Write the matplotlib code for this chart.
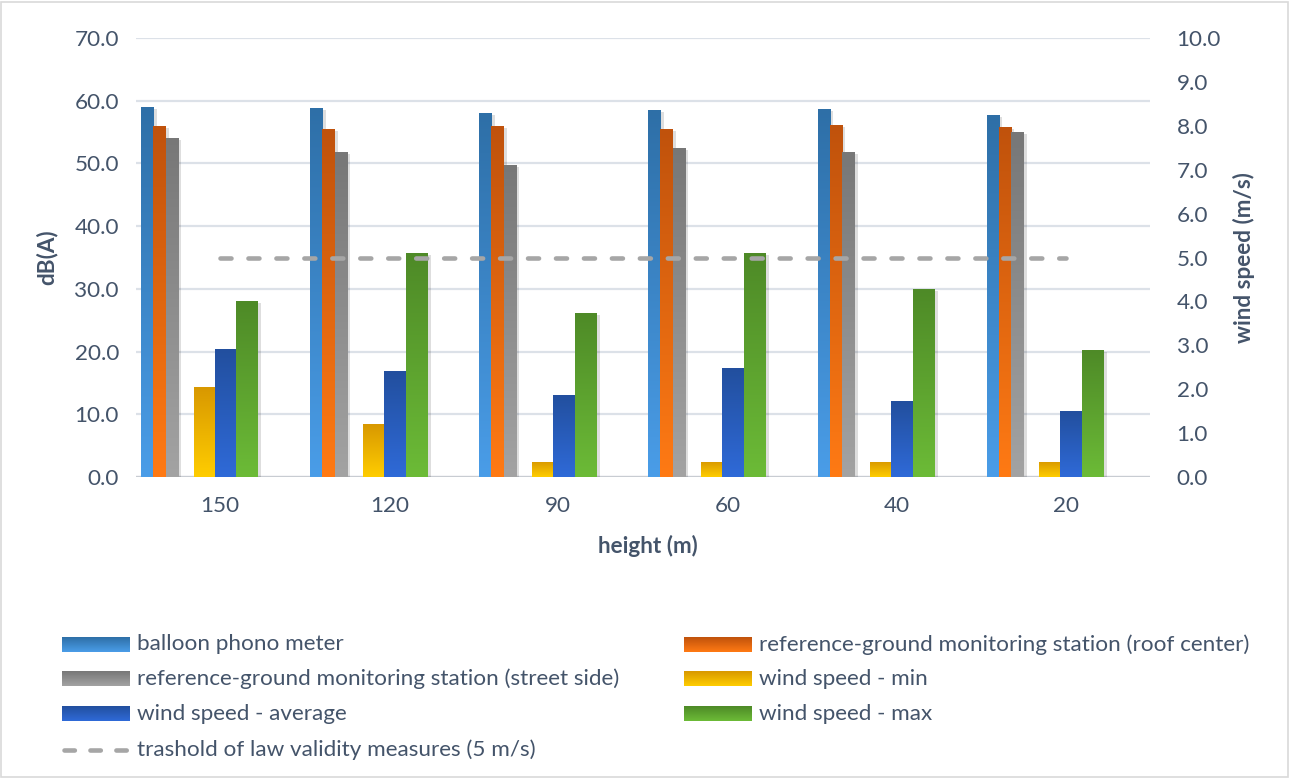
import numpy as np
import matplotlib.pyplot as plt
from matplotlib.colors import LinearSegmentedColormap
from matplotlib.patches import Rectangle
import matplotlib.patheffects as pe

heights = ['150', '120', '90', '60', '40', '20']
balloon = [59.0, 58.9, 58.0, 58.5, 58.7, 57.7]
roof_center = [56.0, 55.5, 56.0, 55.5, 56.1, 55.8]
street_side = [54.1, 51.8, 49.8, 52.5, 51.8, 55.0]
wind_min = [2.05, 1.2, 0.35, 0.35, 0.35, 0.35]
wind_avg = [2.92, 2.41, 1.87, 2.48, 1.73, 1.5]
wind_max = [4.0, 5.1, 3.74, 5.1, 4.28, 2.89]
threshold = 5.0

names = ['balloon phono meter',
         'reference-ground monitoring station (roof center)',
         'reference-ground monitoring station (street side)',
         'wind speed - min',
         'wind speed - average',
         'wind speed - max']
line_name = 'trashold of law validity measures (5 m/s)'

# (bottom colour, top colour) for each series gradient
grads = [('#4A9DE8', '#2E6FA7'),
         ('#FF7A14', '#C0520C'),
         ('#A3A3A3', '#777777'),
         ('#FFCD00', '#D89800'),
         ('#2F6AD8', '#224F9E'),
         ('#6CBB37', '#4E8A27')]

TXT = '#44546A'
FS = 16.2
plt.rcParams['font.family'] = ['Lato', 'DejaVu Sans']

fig = plt.figure(figsize=(12.91, 7.78), dpi=100)
ax = fig.add_axes([0.105, 0.387, 0.786, 0.564])
ax2 = ax.twinx()

x = np.arange(len(heights))


def gradient_bars(axis, xpos, vals, width, cols):
    cmap = LinearSegmentedColormap.from_list('g', list(cols))
    bars = axis.bar(xpos, vals, width, color='white', zorder=2,
                    path_effects=[pe.SimplePatchShadow(offset=(2.5, -1.5), shadow_rgbFace='black', alpha=0.13),
                                  pe.Normal()])
    grad = np.linspace(0, 1, 256).reshape(-1, 1)
    for b in bars:
        x0 = b.get_x()
        im = axis.imshow(grad, cmap=cmap, origin='lower', aspect='auto',
                         extent=(x0, x0 + b.get_width(), 0, b.get_height()),
                         zorder=3, interpolation='bilinear')
        im.set_clip_path(b)
    return bars


left_off = [-0.432, -0.361, -0.287]
right_off = [-0.092, 0.0325, 0.160]
for off, vals, cols in zip(left_off, [balloon, roof_center, street_side], grads[:3]):
    gradient_bars(ax, x + off, vals, 0.071, cols)
for off, vals, cols in zip(right_off, [wind_min, wind_avg, wind_max], grads[3:]):
    gradient_bars(ax2, x + off, vals, 0.127, cols)

ax2.plot(x, [threshold] * len(x), color='#A6A6A6', lw=3.3, zorder=5,
         linestyle=(0, (2.4, 3.7)), dash_capstyle='round',
         path_effects=[pe.SimplePatchShadow(offset=(1, -3), alpha=0.12), pe.Normal()])

for a in (ax, ax2):
    a.set_xlim(-0.5, len(heights) - 0.5)
    for s in a.spines.values():
        s.set_visible(False)
ax.set_ylim(0, 70)
ax2.set_ylim(0, 10)
ax.set_yticks(np.arange(0, 71, 10))
ax2.set_yticks(np.arange(0, 11, 1))
ax.set_yticklabels([f'{v:.1f}' for v in np.arange(0, 71, 10)])
ax2.set_yticklabels([f'{v:.1f}' for v in np.arange(0, 11, 1)])
ax.yaxis.grid(True, color='#DCE1E8', lw=1.6)
ax.set_axisbelow(True)
ax.axhline(0, color='#C8CCD2', lw=1.6, zorder=1)

ax.set_xticks(x)
ax.set_xticklabels(heights)
ax.tick_params(axis='x', length=0, pad=14, labelsize=FS, labelcolor=TXT)
ax.tick_params(axis='y', length=0, pad=12, labelsize=FS, labelcolor=TXT)
ax2.tick_params(axis='y', length=0, pad=19, labelsize=FS, labelcolor=TXT)

ax.set_ylabel('dB(A)', fontsize=FS, fontweight='bold', color=TXT)
ax.yaxis.set_label_coords(-0.088, 0.5)
ax2.set_ylabel('wind speed (m/s)', fontsize=FS, fontweight='bold', color=TXT)
ax2.yaxis.set_label_coords(1.092, 0.5)
ax2.yaxis.label.set_va('center')
ax.yaxis.label.set_va('center')
ax.set_xlabel('height (m)', fontsize=FS, fontweight='bold', color=TXT)
ax.xaxis.set_label_coords(0.505, -0.157)
ax.xaxis.label.set_va('center')

# legend, drawn in figure pixel space
lg = fig.add_axes([0, 0, 1, 1], zorder=10)
lg.axis('off')
lg.patch.set_alpha(0)
rows = [644.5, 679, 714, 749.5]
cols_x = [(62, 130, 137), (684, 752, 759)]
for i, (name, cols) in enumerate(zip(names, grads)):
    r, c = divmod(i, 2)
    x0, x1, tx = cols_x[c]
    y = rows[r]
    cmap = LinearSegmentedColormap.from_list('g', list(cols))
    lg.imshow(np.linspace(0, 1, 64).reshape(-1, 1), cmap=cmap, origin='lower',
              aspect='auto', extent=(x0, x1, y + 7.5, y - 7.5))
    lg.text(tx, y, name, fontsize=FS, color=TXT, va='center', ha='left')
lg.plot([64.3, 127.7], [rows[3], rows[3]], color='#A6A6A6', lw=3.3,
        linestyle=(0, (2.26, 3.4)), dash_capstyle='round')
lg.text(cols_x[0][2], rows[3], line_name, fontsize=FS, color=TXT, va='center', ha='left')
lg.set_xlim(0, 1291)
lg.set_ylim(778, 0)

fig.add_artist(Rectangle((0.001, 0.001), 0.997, 0.997, transform=fig.transFigure,
                         fill=False, edgecolor='#D9D9D9', lw=1.2))

fig.savefig('out.png', dpi=100, facecolor='white')
